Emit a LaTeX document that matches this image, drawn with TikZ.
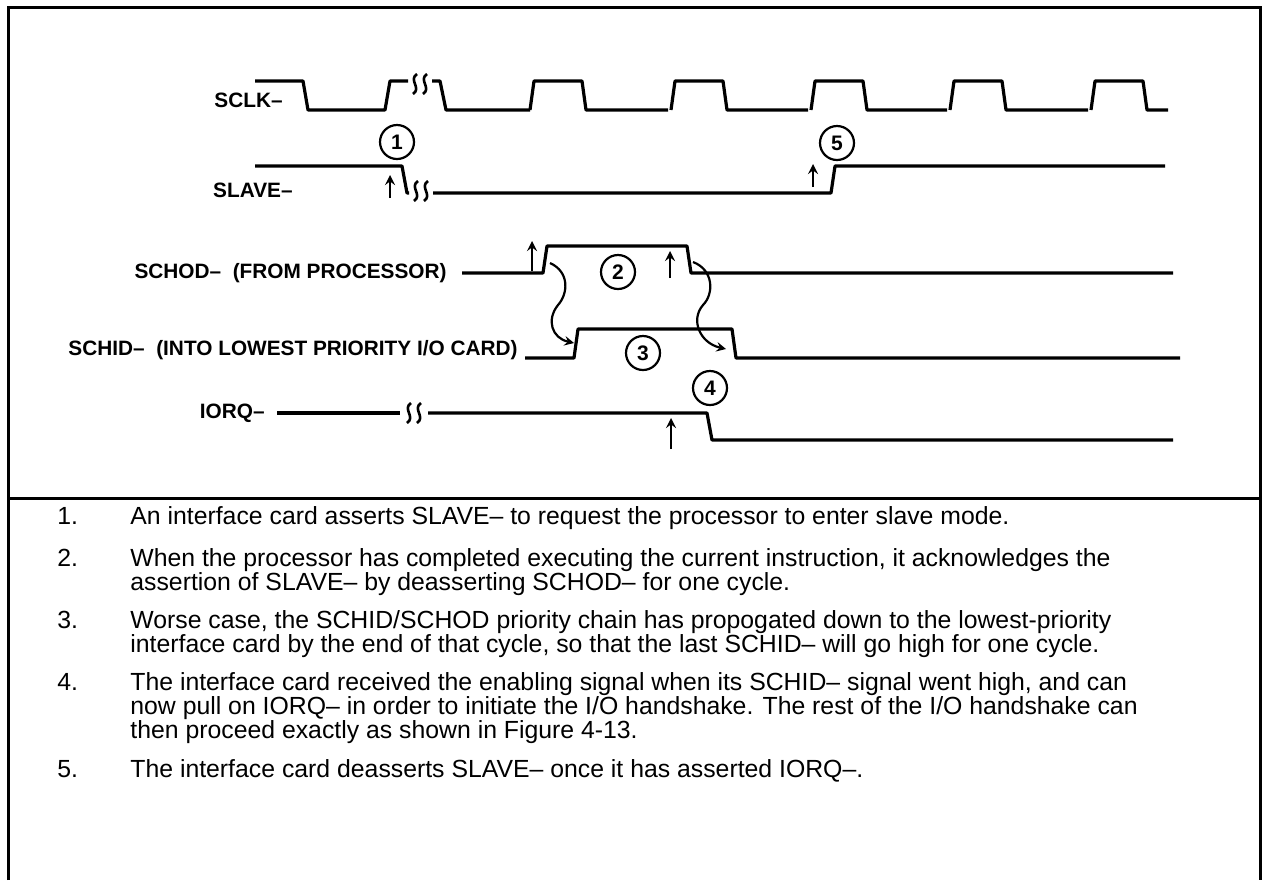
\documentclass[tikz,border=0pt]{standalone}
\usepackage{fontspec}
\setmainfont{Liberation Sans}
\usetikzlibrary{positioning}
\tikzset{sig/.style={anchor=east,inner sep=0pt,font=\fontsize{10.4}{12}\selectfont\bfseries}}
\tikzset{num/.style={circle,draw,line width=1.1pt,minimum size=17pt,inner sep=0pt,font=\fontsize{10.5}{12}\selectfont\bfseries}}
\tikzset{wave/.style={line width=1.6pt,line join=round}}
\tikzset{upar/.style={->,line width=1.2pt}}
\tikzset{note/.style={anchor=north west,inner sep=0pt,align=left,font={\fontsize{12.4}{12}\selectfont\lineskiplimit=-20pt}}}
\newcommand{\wavebreak}[2]{%
  \draw[line width=1.3pt] (#1-3,#2-10) .. controls (#1-12,#2-4) and (#1+2,#2+4) .. (#1-7,#2+10);
  \draw[line width=1.3pt] (#1+7,#2-10) .. controls (#1-2,#2-4) and (#1+12,#2+4) .. (#1+3,#2+10);}

\begin{document}
\begin{tikzpicture}[>=stealth,x=0.5pt,y=-0.5pt]
        \useasboundingbox (0,0) rectangle (1262,880);
        % frame
        \draw[line width=1.5pt] (8,880) -- (8,7) -- (1260,7) -- (1260,880);
        \draw[line width=1.5pt] (8,498) -- (1260,498);

        % signal names
        \node[sig] (sclk) at (283,100) {SCLK--};
        \node[sig] (slave) at (293,190) {SLAVE--};
        \node[sig] (schod) at (447,273) {SCHOD-- \ (FROM PROCESSOR)};
        \node[sig] (schid) at (518,350) {SCHID-- \ (INTO LOWEST PRIORITY I/O CARD)};
        \node[sig] (iorq) at (265,413) {IORQ--};

        % SCLK-
        \draw[wave] (255,81) -- (303,81) -- (308,110) -- (385,110) -- (390,81) -- (408,81);
        \wavebreak{420}{84}
        \draw[wave] (432,81) -- (440,81) -- (446,110) -- (530,110);
        \foreach \t/\n in {530/668,671/808,811/947,950/1088,1091/1168}
            \draw[wave] (\t,110) -- (\t+4,81) -- (\t+52,81) -- (\t+56,110) -- (\n,110);

        % SLAVE-
        \draw[wave] (255,166) -- (402,166) -- (407,193) -- (409,193);
        \wavebreak{421}{191}
        \draw[wave] (433,193) -- (831,193) -- (835,166) -- (1165,166);

        % SCHOD- and SCHID-
        \draw[wave] (462,273) -- (543,273) -- (547,246) -- (687,246) -- (691,273) -- (1173,273);
        \draw[wave] (525,358) -- (574,358) -- (578,329) -- (732,329) -- (736,358) -- (1180,358);

        % IORQ-
        \draw[wave] (277,413) -- (400,413);
        \wavebreak{414}{413}
        \draw[wave] (428,413) -- (707,413) -- (712,440) -- (1173,440);

        % numbered events
        \node[num] (n1) at (397,142) {1};
        \node[num] (n2) at (618,272) {2};
        \node[num] (n3) at (643,353) {3};
        \node[num] (n4) at (710,388) {4};
        \node[num] (n5) at (837,143) {5};

        \draw[upar] (390,198) -- (390,175);
        \draw[upar] (813,187) -- (813,164);
        \draw[upar] (532,271) -- (532,241);
        \draw[upar] (670,278) -- (670,251);
        \draw[upar] (671,449) -- (671,418);

        % propagation
        \coordinate (p1) at (550,263);
        \coordinate (q1) at (574,343);
        \coordinate (p2) at (693,262);
        \coordinate (q2) at (726,349);
        \draw[->,line width=1.1pt] (p1) .. controls (570,272) and (568,294) .. (558,305) .. controls (546,320) and (552,338) .. (q1);
        \draw[->,line width=1.1pt] (p2) .. controls (714,270) and (714,294) .. (703,305) .. controls (690,320) and (700,343) .. (q2);

        % notes
        \node[note] (i1) at (57,506) {\vphantom{fd}1.};
        \node[note] (i2) at (57,548) {\vphantom{fd}2.};
        \node[note] (i3) at (57,610) {\vphantom{fd}3.};
        \node[note] (i4) at (57,672) {\vphantom{fd}4.};
        \node[note] (i5) at (57,759) {\vphantom{fd}5.};
        \node[note] (t1) at (130,506) {An interface card asserts SLAVE-- to request the processor to enter slave mode.};
        \node[note] (t2) at (130,548) {When the processor has completed executing the current instruction, it acknowledges the\\assertion of SLAVE-- by deasserting SCHOD-- for one cycle.};
        \node[note] (t3) at (130,610) {Worse case, the SCHID/SCHOD priority chain has propogated down to the lowest-priority\\interface card by the end of that cycle, so that the last SCHID-- will go high for one cycle.};
        \node[note] (t4) at (130,672) {The interface card received the enabling signal when its SCHID-- signal went high, and can\\now pull on IORQ-- in order to initiate the I/O handshake. The rest of the I/O handshake can\\then proceed exactly as shown in Figure 4-13.};
        \node[note] (t5) at (130,759) {The interface card deasserts SLAVE-- once it has asserted IORQ--.};

    \end{tikzpicture}
\end{document}
